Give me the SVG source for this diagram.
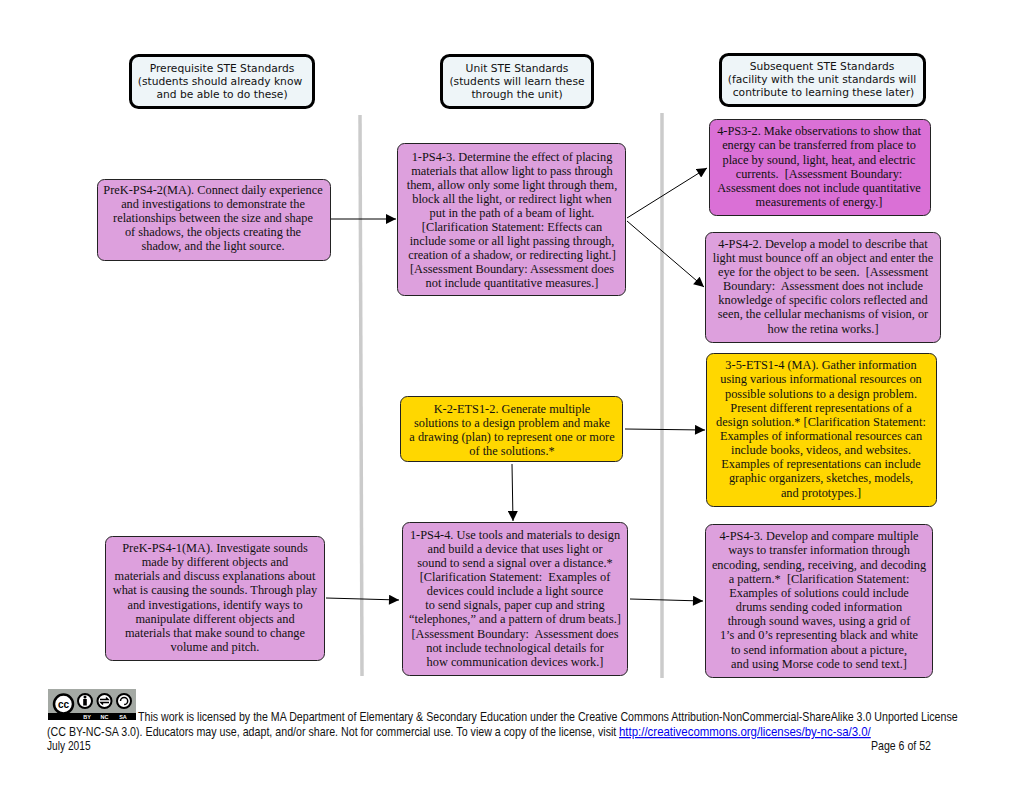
<svg xmlns="http://www.w3.org/2000/svg" width="1024" height="790" viewBox="0 0 1024 790">
<style>
.hd rect{fill:#eef5f8;stroke:#000;stroke-width:3}
.hd text{font:10.7px "DejaVu Sans",Verdana,sans-serif;fill:#111;text-anchor:middle}
.n rect{stroke:#222;stroke-width:1}
.n text{font:12.35px "Liberation Serif","Times New Roman",serif;fill:#111;text-anchor:middle;white-space:pre}
.p rect{fill:#dda0dd}
.o rect{fill:#da70d6}
.g rect{fill:#ffd700}
.rule{stroke:#cbcbcb;stroke-width:3.500}
#connectors line{stroke:#000;stroke-width:1;marker-end:url(#arrow)}
.foot{font:12px "Liberation Sans",Arial,sans-serif;fill:#111}
</style>
<defs>
<marker id="arrow" viewBox="0 0 10 10" refX="10" refY="5" markerWidth="11" markerHeight="10" markerUnits="userSpaceOnUse" orient="auto"><path d="M0 0L10 5L0 10z" fill="#000"/></marker>
</defs>
<rect width="1024" height="790" fill="#fff"/>
<line class="rule" x1="360" y1="115" x2="362" y2="676"/>
<line class="rule" x1="662" y1="113" x2="662" y2="678"/>
<g id="hd-prereq" class="hd"><rect x="130.500" y="55.500" width="183" height="52" rx="8"/>
<text x="222" y="72">Prerequisite STE Standards</text><text x="220" y="85">(students should already know</text><text x="222" y="98">and be able to do these)</text></g>
<g id="hd-unit" class="hd"><rect x="441.500" y="55.500" width="151" height="52" rx="8"/>
<text x="517" y="72">Unit STE Standards</text><text x="517" y="85">(students will learn these</text><text x="517" y="98">through the unit)</text></g>
<g id="hd-subseq" class="hd"><rect x="720.500" y="54.500" width="204" height="51" rx="8"/>
<text x="822" y="70">Subsequent STE Standards</text><text x="822" y="83">(facility with the unit standards will</text><text x="823.500" y="96">contribute to learning these later)</text></g>
<g id="connectors">
<line x1="331" y1="219" x2="396" y2="219"/>
<line x1="627" y1="218" x2="707" y2="168"/>
<line x1="627" y1="221" x2="704" y2="287"/>
<line x1="625" y1="429" x2="705" y2="430"/>
<line x1="512" y1="464" x2="513" y2="521"/>
<line x1="326" y1="598" x2="399" y2="600"/>
<line x1="630" y1="599" x2="703" y2="601"/>
</g>
<g id="prek-ps4-2" class="n p"><rect x="97.500" y="179.500" width="233" height="81" rx="7"/>
<text x="213" y="194">PreK-PS4-2(MA). Connect daily experience</text><text x="213" y="208">and investigations to demonstrate the</text><text x="213" y="222">relationships between the size and shape</text><text x="213" y="236">of shadows, the objects creating the</text><text x="213" y="250">shadow, and the light source.</text></g>
<g id="prek-ps4-1" class="n p"><rect x="105.500" y="536.500" width="219" height="124" rx="7"/>
<text x="215" y="552">PreK-PS4-1(MA). Investigate sounds</text><text x="215" y="566">made by different objects and</text><text x="215" y="580">materials and discuss explanations about</text><text x="215" y="594">what is causing the sounds. Through play</text><text x="215" y="609">and investigations, identify ways to</text><text x="215" y="623">manipulate different objects and</text><text x="215" y="637">materials that make sound to change</text><text x="215" y="651">volume and pitch.</text></g>
<g id="ps4-3" class="n p"><rect x="397.500" y="143.500" width="228" height="152" rx="7"/>
<text x="512" y="161">1-PS4-3. Determine the effect of placing</text><text x="512" y="175">materials that allow light to pass through</text><text x="512" y="189">them, allow only some light through them,</text><text x="512" y="203">block all the light, or redirect light when</text><text x="512" y="217">put in the path of a beam of light.</text><text x="512" y="231">[Clarification Statement: Effects can</text><text x="512" y="245">include some or all light passing through,</text><text x="512" y="259">creation of a shadow, or redirecting light.]</text><text x="512" y="273">[Assessment Boundary: Assessment does</text><text x="512" y="287">not include quantitative measures.]</text></g>
<g id="ps3-2" class="n o"><rect x="709.500" y="119.500" width="221" height="96" rx="7"/>
<text x="819" y="135">4-PS3-2. Make observations to show that</text><text x="819" y="149">energy can be transferred from place to</text><text x="819" y="164">place by sound, light, heat, and electric</text><text x="819" y="178">currents.  [Assessment Boundary:</text><text x="819" y="192">Assessment does not include quantitative</text><text x="819" y="206">measurements of energy.]</text></g>
<g id="ps4-2" class="n p"><rect x="705.500" y="232.500" width="235" height="110" rx="7"/>
<text x="823" y="248">4-PS4-2. Develop a model to describe that</text><text x="823" y="262">light must bounce off an object and enter the</text><text x="823" y="276">eye for the object to be seen.  [Assessment</text><text x="823" y="290">Boundary:  Assessment does not include</text><text x="823" y="304">knowledge of specific colors reflected and</text><text x="823" y="318">seen, the cellular mechanisms of vision, or</text><text x="823" y="333">how the retina works.]</text></g>
<g id="ets1-4" class="n g"><rect x="706.500" y="353.500" width="230" height="153" rx="7"/>
<text x="821" y="369">3-5-ETS1-4 (MA). Gather information</text><text x="821" y="383">using various informational resources on</text><text x="821" y="398">possible solutions to a design problem.</text><text x="821" y="412">Present different representations of a</text><text x="821" y="426">design solution.* [Clarification Statement:</text><text x="821" y="440">Examples of informational resources can</text><text x="821" y="454">include books, videos, and websites.</text><text x="821" y="468">Examples of representations can include</text><text x="821" y="482">graphic organizers, sketches, models,</text><text x="821" y="497">and prototypes.]</text></g>
<g id="ets1-2" class="n g"><rect x="400.500" y="396.500" width="222" height="65" rx="7"/>
<text x="512" y="413">K-2-ETS1-2. Generate multiple</text><text x="512" y="427">solutions to a design problem and make</text><text x="512" y="441">a drawing (plan) to represent one or more</text><text x="512" y="455">of the solutions.*</text></g>
<g id="ps4-4" class="n p"><rect x="402.500" y="522.500" width="225" height="153" rx="7"/>
<text x="515" y="539">1-PS4-4. Use tools and materials to design</text><text x="515" y="553">and build a device that uses light or</text><text x="515" y="567">sound to send a signal over a distance.*</text><text x="515" y="581">[Clarification Statement:  Examples of</text><text x="515" y="595">devices could include a light source</text><text x="515" y="609">to send signals, paper cup and string</text><text x="515" y="623">“telephones,” and a pattern of drum beats.]</text><text x="515" y="638">[Assessment Boundary:  Assessment does</text><text x="515" y="652">not include technological details for</text><text x="515" y="666">how communication devices work.]</text></g>
<g id="ps4-3b" class="n p"><rect x="705.500" y="524.500" width="227" height="153" rx="7"/>
<text x="819" y="540">4-PS4-3. Develop and compare multiple</text><text x="819" y="554">ways to transfer information through</text><text x="819" y="569">encoding, sending, receiving, and decoding</text><text x="819" y="583">a pattern.*  [Clarification Statement:</text><text x="819" y="597">Examples of solutions could include</text><text x="819" y="611">drums sending coded information</text><text x="819" y="625">through sound waves, using a grid of</text><text x="819" y="639">1’s and 0’s representing black and white</text><text x="819" y="654">to send information about a picture,</text><text x="819" y="668">and using Morse code to send text.]</text></g>
<!-- Creative Commons badge -->
<g id="cc-badge">
<rect x="48" y="689" width="88" height="31" fill="#a4a9a4"/>
<rect x="48" y="713" width="88" height="7" fill="#000"/>
<g fill="#fff" stroke="#000" stroke-width="2"><circle cx="63.500" cy="704" r="9.500" stroke-width="2.500"/><circle cx="85" cy="701" r="7"/><circle cx="104.500" cy="701" r="7"/><circle cx="124" cy="701" r="7"/></g>
<text x="63.500" y="707.500" font-family="Liberation Sans,sans-serif" font-size="10" font-weight="bold" text-anchor="middle">cc</text>
<g fill="#000"><circle cx="85" cy="697" r="1.500"/><rect x="83.200" y="699" width="3.600" height="6.500"/></g>
<g fill="none" stroke="#000" stroke-width="1.500"><path d="M100 699.500h8l-2-2M109 702.500h-8l2 2"/><path d="M120.500 701a3.600 3.600 0 1 1 3.600 3.600"/></g>
<g font-family="Liberation Sans,sans-serif" font-size="5.500" font-weight="bold" fill="#fff" text-anchor="middle"><text x="87" y="719">BY</text><text x="104.500" y="719">NC</text><text x="123" y="719">SA</text></g>
</g>
<g id="footer" class="foot">
<text transform="translate(138 721) scale(.886 1)">This work is licensed by the MA Department of Elementary &amp; Secondary Education under the Creative Commons Attribution-NonCommercial-ShareAlike 3.0 Unported License</text>
<text transform="translate(47 736) scale(.889 1)">(CC BY-NC-SA 3.0). Educators may use, adapt, and/or share. Not for commercial use. To view a copy of the license, visit</text>
<text transform="translate(619 736) scale(.954 1)" fill="#00e" text-decoration="underline">http://creativecommons.org/licenses/by-nc-sa/3.0/</text>
<text transform="translate(47 750) scale(.85 1)">July 2015</text>
<text transform="translate(871 750) scale(.882 1)">Page 6 of 52</text>
</g>
</svg>
